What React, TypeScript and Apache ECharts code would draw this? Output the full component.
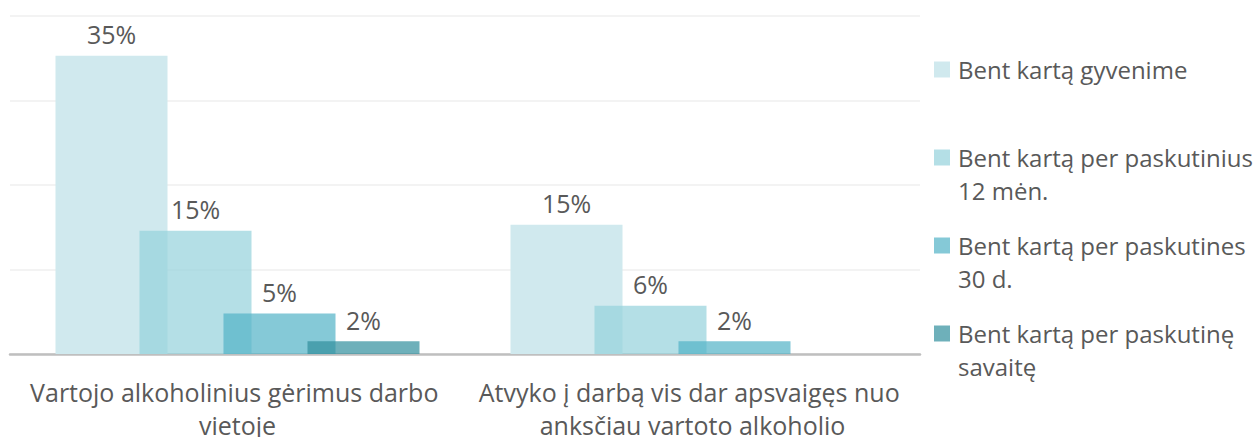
import React, { useEffect, useRef } from "react";
import * as echarts from "echarts";

const categories = [
  "Vartojo alkoholinius gėrimus darbo vietoje",
  "Atvyko į darbą vis dar apsvaigęs nuo anksčiau vartoto alkoholio",
];
const seriesNames = [
  "Bent kartą gyvenime",
  "Bent kartą per paskutinius 12 mėn.",
  "Bent kartą per paskutines 30 d.",
  "Bent kartą per paskutinę savaitę",
];
const legendLabels = [
  "\nBent kartą gyvenime\n",
  "\nBent kartą per paskutinius\n12 mėn.",
  "\nBent kartą per paskutines\n30 d.",
  "\nBent kartą per paskutinę\nsavaitę",
];
const valuesLifetime = [35.3, 15.3];
const values12m = [14.6, 5.7];
const values30d = [4.8, 1.5];
const valuesWeek: (number | null)[] = [1.5, null];
const yTicks = [0, 10, 20, 30, 40];

const colors = [
  "#d0e9ee",
  "rgba(148,209,219,0.7)",
  "rgba(81,178,198,0.7)",
  "rgba(49,143,157,0.7)",
];

const FONT = "'Open Sans', 'Noto Sans', sans-serif";
const TEXT = "#595959";

export default function App() {
  const ref = useRef<HTMLDivElement>(null);
  useEffect(() => {
    if (!ref.current) return;
    const chart = echarts.init(ref.current, null, { renderer: "svg" });
    const all = [valuesLifetime, values12m, values30d, valuesWeek];
    chart.setOption({
      animation: false,
      backgroundColor: "#ffffff",
      textStyle: { fontFamily: FONT },
      grid: {
        left: 10,
        right: 333,
        top: 16,
        bottom: 83,
        containLabel: false,
        outerBoundsMode: "none",
      },
      legend: {
        orient: "vertical",
        left: 929,
        top: 15,
        itemWidth: 16,
        itemHeight: 16,
        itemGap: -11,
        icon: "rect",
        data: seriesNames,
        formatter: (name: string) => legendLabels[seriesNames.indexOf(name)],
        textStyle: {
          fontFamily: FONT,
          fontSize: 24,
          color: TEXT,
          lineHeight: 33,
          padding: [0, 0, 0, 3],
        },
      },
      xAxis: {
        type: "category",
        data: categories,
        axisLine: { lineStyle: { color: "#bfbfbf", width: 2.5 } },
        axisTick: { show: false },
        axisLabel: {
          interval: 0,
          margin: 21,
          fontFamily: FONT,
          fontSize: 25,
          color: TEXT,
          lineHeight: 33,
          width: 470,
          overflow: "break",
        },
      },
      yAxis: {
        type: "value",
        min: yTicks[0],
        max: yTicks[yTicks.length - 1],
        interval: 10,
        axisLabel: { show: false },
        axisLine: { show: false },
        axisTick: { show: false },
        splitLine: { lineStyle: { color: "#efefef", width: 1.5 } },
      },
      series: seriesNames.map((name, i) => ({
        name,
        type: "bar",
        data: all[i],
        barWidth: 112,
        barGap: "-25%",
        itemStyle: { color: colors[i] },
        label: {
          show: true,
          position: "top",
          distance: 9,
          fontFamily: FONT,
          fontSize: 25,
          color: TEXT,
          formatter: (p: any) => Math.round(p.value) + "%",
        },
      })),
    });
    return () => chart.dispose();
  }, []);
  return (
    <div
      ref={ref}
      style={{ position: "fixed", left: 0, top: 0, width: 1253, height: 437 }}
    />
  );
}
